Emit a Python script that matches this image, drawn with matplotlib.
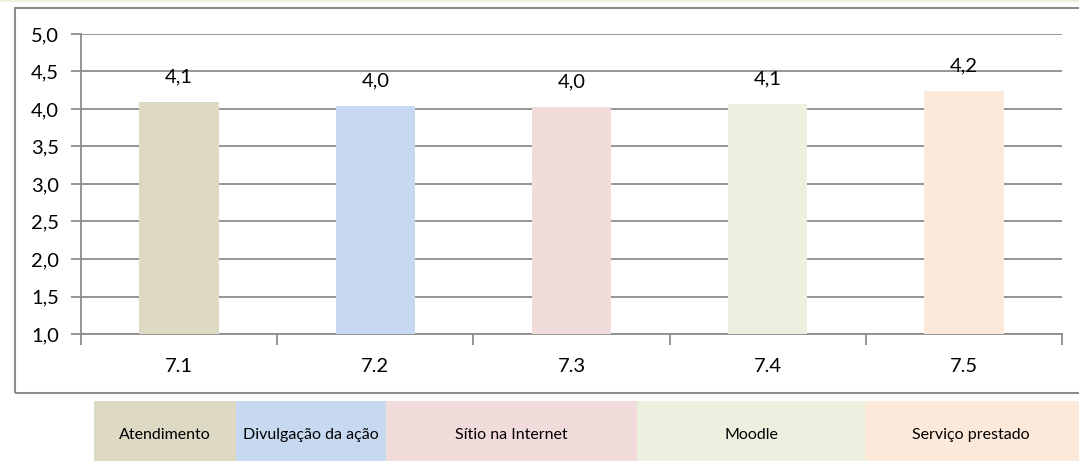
import matplotlib.pyplot as plt
from matplotlib.patches import Rectangle

plt.rcParams['font.family'] = ['Lato', 'DejaVu Sans']

categorias = ['7.1', '7.2', '7.3', '7.4', '7.5']
valores = [4.09, 4.04, 4.03, 4.07, 4.24]
rotulos = ['4,1', '4,0', '4,0', '4,1', '4,2']
legendas = ['Atendimento', 'Divulgação da ação', 'Sítio na Internet', 'Moodle', 'Serviço prestado']
cores = ['#DDD9C3', '#C6D9F1', '#F2DCDB', '#EBF1DE', '#FDE9D9']
yticks = [1.0, 1.5, 2.0, 2.5, 3.0, 3.5, 4.0, 4.5, 5.0]

W, H = 1079, 461
fig = plt.figure(figsize=(W / 100, H / 100), dpi=100)

# moldura do gráfico
fig.patches.append(Rectangle((15 / W, 1 - 393 / H), 1.2, (393 - 8) / H,
                             transform=fig.transFigure, fill=False,
                             edgecolor='#8c8c8c', linewidth=1.5))
# faixa verde no topo
fig.patches.append(Rectangle((0, 1 - 2.5 / H), 1, 2.5 / H, transform=fig.transFigure,
                             facecolor='#EBF1DE', edgecolor='none'))

ax = fig.add_axes([81 / W, 1 - 334 / H, (1062 - 81) / W, 300 / H])
x = list(range(len(categorias)))
bars = ax.bar(x, valores, width=0.405, color=cores, bottom=0, zorder=3)
ax.set_ylim(1.0, 5.0)
ax.set_xlim(-0.5, len(categorias) - 0.5)

for b, r in zip(bars, rotulos):
    ax.annotate(r, (b.get_x() + b.get_width() / 2, b.get_height()),
                xytext=(0, 12), textcoords='offset points',
                ha='center', va='bottom', fontsize=14.5, color='#000000')

ax.set_yticks(yticks)
ax.set_yticklabels([f'{v:.1f}'.replace('.', ',') for v in yticks], fontsize=14.5)
ax.yaxis.grid(True, color='#8c8c8c', linewidth=1.3, zorder=0)

ax.set_xticks([i - 0.5 for i in range(len(categorias) + 1)])
ax.set_xticklabels([])
ax.set_xticks(x, minor=True)
ax.set_xticklabels(categorias, minor=True, fontsize=14.5)
ax.tick_params(axis='x', which='major', length=8, color='#8c8c8c', width=1.3, direction='out')
ax.tick_params(axis='x', which='minor', length=0, pad=17)
ax.tick_params(axis='y', length=7, color='#8c8c8c', width=1.3, pad=9)

for s in ['top', 'right']:
    ax.spines[s].set_visible(False)
for s in ['left', 'bottom']:
    ax.spines[s].set_color('#8c8c8c')
    ax.spines[s].set_linewidth(1.3)

# legenda em caixas
bordas = [94, 236, 386, 637, 865, 1085]
for i, (nome, cor) in enumerate(zip(legendas, cores)):
    x0, x1 = bordas[i], bordas[i + 1]
    fig.patches.append(Rectangle((x0 / W, 1 - 461 / H), (x1 - x0) / W, 60 / H,
                                 transform=fig.transFigure, facecolor=cor, edgecolor='none'))
    xc = (x0 + min(x1, W)) / 2 if i < 4 else 971
    fig.text(xc / W, 1 - 435 / H, nome, ha='center', va='center', fontsize=11.5)

fig.savefig('out.png', dpi=100)
